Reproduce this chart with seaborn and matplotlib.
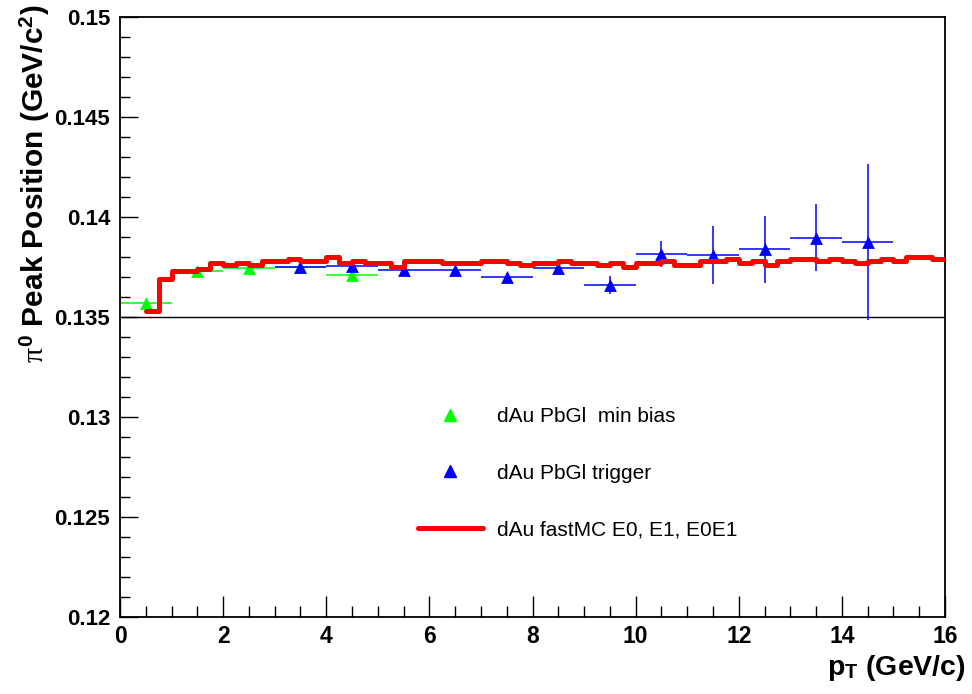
import numpy as np
import pandas as pd
import matplotlib
matplotlib.use("Agg")
import matplotlib.pyplot as plt
from matplotlib.lines import Line2D
from matplotlib.ticker import MultipleLocator, FuncFormatter
import seaborn as sns

# ---------------- data ----------------
# fastMC histogram (bin edges 0.5 ... 16.0, width 0.25)
mc_edges = np.arange(0.5, 16.0 + 0.001, 0.25)
mc_values = [0.1353, 0.1369, 0.1373, 0.1373, 0.1374, 0.1377, 0.1376, 0.1377,
             0.1376, 0.1378, 0.1378, 0.1379, 0.1378, 0.1378, 0.1380, 0.1377,
             0.1378, 0.1377, 0.1377, 0.1375, 0.1378, 0.1378, 0.1378, 0.1377,
             0.1377, 0.1377, 0.1378, 0.1378, 0.1377, 0.1376, 0.1377, 0.1377,
             0.1378, 0.1377, 0.1377, 0.1376, 0.1377, 0.1375, 0.1377, 0.1377,
             0.1378, 0.1376, 0.1376, 0.1378, 0.1378, 0.1379, 0.1377, 0.1378,
             0.1376, 0.1378, 0.1379, 0.1379, 0.1378, 0.1379, 0.1378, 0.1377,
             0.1378, 0.1379, 0.1378, 0.1380, 0.1380, 0.1379]

# min bias
mb_pt = [0.5, 1.5, 2.5, 3.5, 4.5]
mb_val = [0.13572, 0.13730, 0.13743, 0.13750, 0.13712]
mb_err = [0.00010, 0.00010, 0.00010, 0.00010, 0.00012]

# trigger
tr_pt = [3.5, 4.5, 5.5, 6.5, 7.5, 8.5, 9.5, 10.5, 11.5, 12.5, 13.5, 14.5]
tr_val = [0.13752, 0.13753, 0.13737, 0.13735, 0.13702, 0.13743, 0.13660,
          0.13813, 0.13810, 0.13838, 0.13897, 0.13873]
tr_err = [0.00010, 0.00012, 0.00012, 0.00015, 0.00020, 0.00025, 0.00047,
          0.00065, 0.00143, 0.00167, 0.00167, 0.00390]

pt_halfwidth = 0.5
ref_mass = 0.135

labels = ["dAu PbGl  min bias", "dAu PbGl trigger", "dAu fastMC E0, E1, E0E1"]

# ---------------- style ----------------
sns.set_theme(style="white")
plt.rcParams["font.family"] = ["Liberation Sans", "DejaVu Sans"]
plt.rcParams["mathtext.fontset"] = "custom"
plt.rcParams["mathtext.rm"] = "Liberation Sans:bold"
plt.rcParams["mathtext.bf"] = "Liberation Sans:bold"
plt.rcParams["mathtext.it"] = "Liberation Serif"
for k in ["text.color", "axes.labelcolor", "xtick.color", "ytick.color"]:
    plt.rcParams[k] = "black"

fig = plt.figure(figsize=(9.72, 6.94), dpi=100)
ax = fig.add_axes([120/972, 1-617/694, 825/972, 600/694])

GREEN = "#00ff00"
BLUE = "#0000ff"
RED = "#ff0000"

# green min bias
ax.errorbar(mb_pt, mb_val, xerr=pt_halfwidth, yerr=mb_err, fmt="none",
            ecolor=GREEN, elinewidth=1.1, capsize=0, zorder=2)
df_mb = pd.DataFrame({"pt": mb_pt, "val": mb_val})
sns.scatterplot(data=df_mb, x="pt", y="val", marker="^", s=85, color=GREEN,
                edgecolor=GREEN, linewidth=0, ax=ax, zorder=2)

# blue trigger
ax.errorbar(tr_pt, tr_val, xerr=pt_halfwidth, yerr=tr_err, fmt="none",
            ecolor=BLUE, elinewidth=1.1, capsize=0, zorder=3)
df_tr = pd.DataFrame({"pt": tr_pt, "val": tr_val})
sns.scatterplot(data=df_tr, x="pt", y="val", marker="^", s=85, color=BLUE,
                edgecolor=BLUE, linewidth=0, ax=ax, zorder=3)

# red fastMC
df_mc = pd.DataFrame({"pt": mc_edges, "val": list(mc_values) + [mc_values[-1]]})
sns.lineplot(data=df_mc, x="pt", y="val", drawstyle="steps-post", color=RED,
             lw=3.6, estimator=None, ax=ax, zorder=4)

ax.axhline(ref_mass, color="black", lw=1.0, zorder=1)

ax.set_xlim(0, 16)
ax.set_ylim(0.12, 0.15)
ax.set_xlabel("")
ax.set_ylabel("")

ax.xaxis.set_major_locator(MultipleLocator(2))
ax.xaxis.set_minor_locator(MultipleLocator(0.5))
ax.yaxis.set_major_locator(MultipleLocator(0.005))
ax.yaxis.set_minor_locator(MultipleLocator(0.001))
ax.yaxis.set_major_formatter(FuncFormatter(lambda v, p: f"{v:.3f}".rstrip("0")))
ax.tick_params(axis="both", which="both", direction="in", bottom=True, left=True,
               top=False, right=False, color="black", width=1.0)
ax.tick_params(axis="x", which="major", length=15, pad=6, labelsize=16.5)
ax.tick_params(axis="x", which="minor", length=8)
ax.tick_params(axis="y", which="major", length=13, pad=7, labelsize=16)
ax.tick_params(axis="y", which="minor", length=7)
for lab in ax.get_xticklabels() + ax.get_yticklabels():
    lab.set_fontweight("bold")
for sp in ax.spines.values():
    sp.set_color("black")
    sp.set_linewidth(1.3)

fig.text(35/972, 1-4/694, r"$\pi^{0}$ Peak Position (GeV/c$^{2}$)",
         rotation=90, ha="center", va="top", fontsize=21.5, fontweight="bold")
fig.text(966/972, 1-668/694, r"$\mathbf{p}_{\mathbf{T}}$ (GeV/c)",
         ha="right", va="center", fontsize=20.5, fontweight="bold")

handles = [
    Line2D([], [], marker="^", color=GREEN, linestyle="none", markersize=9),
    Line2D([], [], marker="^", color=BLUE, linestyle="none", markersize=9),
    Line2D([], [], color=RED, lw=3.6),
]
leg = ax.legend(handles, labels, loc="upper left", frameon=False,
                bbox_to_anchor=((418-120)/825, (617-407)/600),
                fontsize=15, handlelength=3.1, handletextpad=0.7,
                labelspacing=1.8, borderaxespad=0, borderpad=0)
for t in leg.get_texts():
    t.set_color("black")

fig.savefig("out.png", dpi=100, facecolor="white")
